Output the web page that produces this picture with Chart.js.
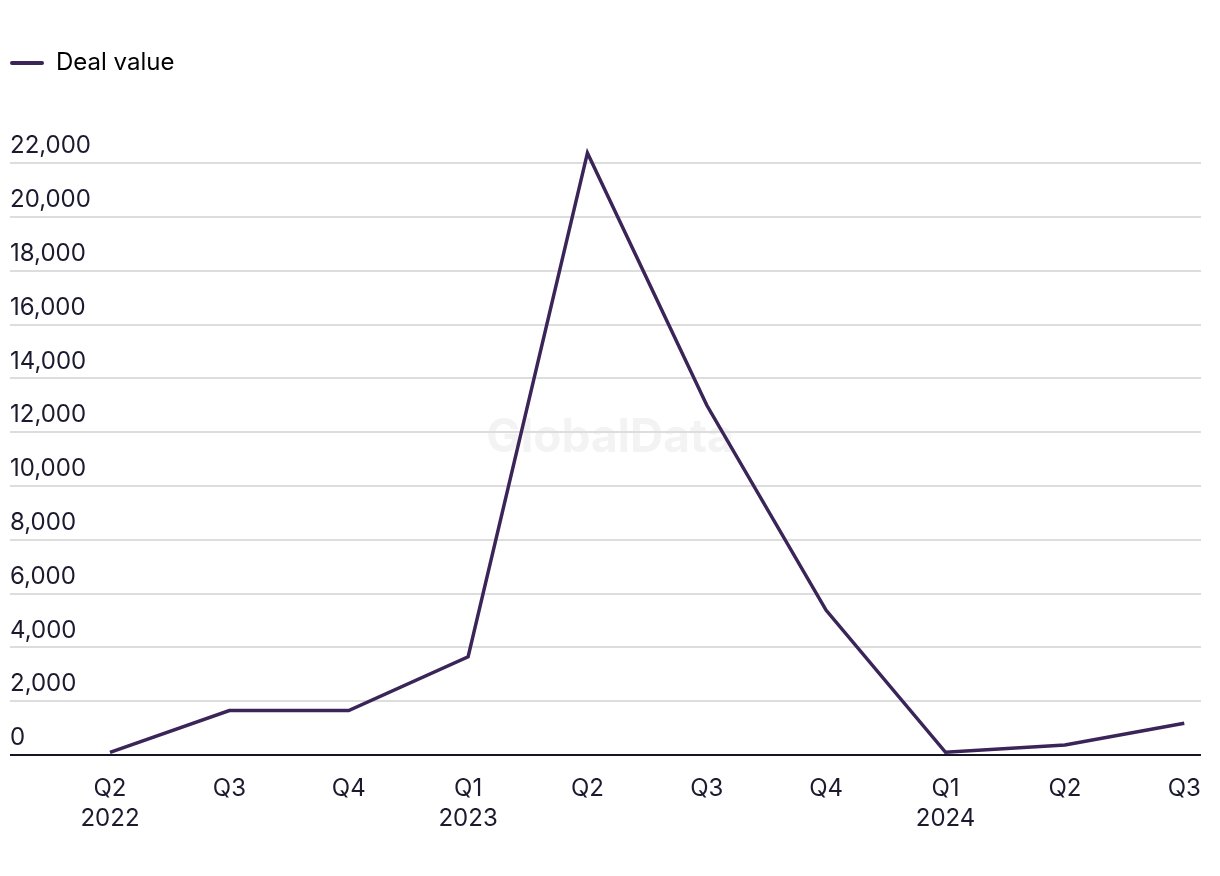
<!DOCTYPE html>
<html>
<head>
<meta charset="utf-8">
<script src="https://cdn.jsdelivr.net/npm/chart.js@4"></script>
<style>
  html, body { margin: 0; padding: 0; background: #fff; overflow: hidden; }
  canvas { display: block; }
</style>
</head>
<body>
<canvas id="dealChart" width="1220" height="876"></canvas>
<script>
const quarters = ['Q2', 'Q3', 'Q4', 'Q1', 'Q2', 'Q3', 'Q4', 'Q1', 'Q2', 'Q3'];
const years = ['2022', '', '', '2023', '', '', '', '2024', '', ''];
const dealValue = [100, 1650, 1650, 3650, 22380, 13000, 5380, 100, 370, 1180];
const yTicks = [0, 2000, 4000, 6000, 8000, 10000, 12000, 14000, 16000, 18000, 20000, 22000];

const textColor = '#1b1a2e';
const lineColor = '#3a2458';

Chart.defaults.font.family = 'Inter, "Noto Sans", sans-serif';
Chart.defaults.font.size = 24;
Chart.defaults.color = textColor;

// faint watermark behind everything
const watermark = {
  id: 'watermark',
  beforeDraw(chart) {
    const ctx = chart.ctx;
    ctx.save();
    ctx.font = 'bold 46px Inter, sans-serif';
    ctx.fillStyle = '#f3f3f4';
    ctx.textAlign = 'center';
    ctx.textBaseline = 'middle';
    ctx.fillText('GlobalData', chart.width / 2, 438);
    ctx.restore();
  }
};

// leave room under the legend
const legendGap = {
  id: 'legendGap',
  beforeInit(chart) {
    const fit = chart.legend.fit;
    chart.legend.fit = function () {
      fit.call(this);
      this.height = 92;
    };
  }
};

function initChart() {
  const ctx = document.getElementById('dealChart').getContext('2d');
  new Chart(ctx, {
    type: 'line',
    data: {
      datasets: [{
        label: 'Deal value',
        data: dealValue.map((v, i) => ({ x: i, y: v })),
        borderColor: lineColor,
        backgroundColor: lineColor,
        borderWidth: 3.5,
        pointRadius: 0,
        tension: 0,
        clip: false
      }]
    },
    options: {
      responsive: false,
      devicePixelRatio: 1,
      animation: false,
      layout: { autoPadding: false, padding: { top: 51, left: 10, right: 10, bottom: 23 } },
      plugins: {
        tooltip: { enabled: false },
        legend: {
          position: 'top',
          align: 'start',
          labels: {
            padding: 0,
            boxWidth: 34,
            boxHeight: 4,
            color: textColor,
            generateLabels: chart => [{
              text: 'Deal value',
              fillStyle: lineColor,
              strokeStyle: lineColor,
              lineWidth: 0,
              borderRadius: 2,
              datasetIndex: 0
            }],
            useBorderRadius: true
          }
        }
      },
      scales: {
        x: {
          type: 'linear',
          bounds: 'data',
          min: 0,
          max: 9.14,
          afterBuildTicks: scale => { scale.ticks = quarters.map((q, i) => ({ value: i })); },
          grid: { display: false, drawTicks: false },
          border: { display: false },
          ticks: {
            autoSkip: false,
            maxRotation: 0,
            padding: 19,
            font: { size: 24, lineHeight: 1.25 },
            callback: v => (years[v] ? [quarters[v], years[v]] : quarters[v])
          }
        },
        y: {
          bounds: 'data',
          min: 0,
          max: 22750,
          afterBuildTicks: scale => { scale.ticks = yTicks.map(v => ({ value: v })); },
          afterFit: scale => { scale.width = 100; },
          grid: {
            color: c => (c.tick && c.tick.value === 0 ? '#15152a' : '#dddddd'),
            tickColor: c => (c.tick && c.tick.value === 0 ? '#15152a' : '#dddddd'),
            lineWidth: 2,
            tickLength: 100,
            drawTicks: true
          },
          border: { display: false },
          ticks: {
            crossAlign: 'far',
            labelOffset: -17,
            padding: 0,
            callback: v => v.toLocaleString('en-US')
          }
        }
      }
    },
    plugins: [watermark, legendGap]
  });
}

window.addEventListener('DOMContentLoaded', initChart);
</script>
</body>
</html>
